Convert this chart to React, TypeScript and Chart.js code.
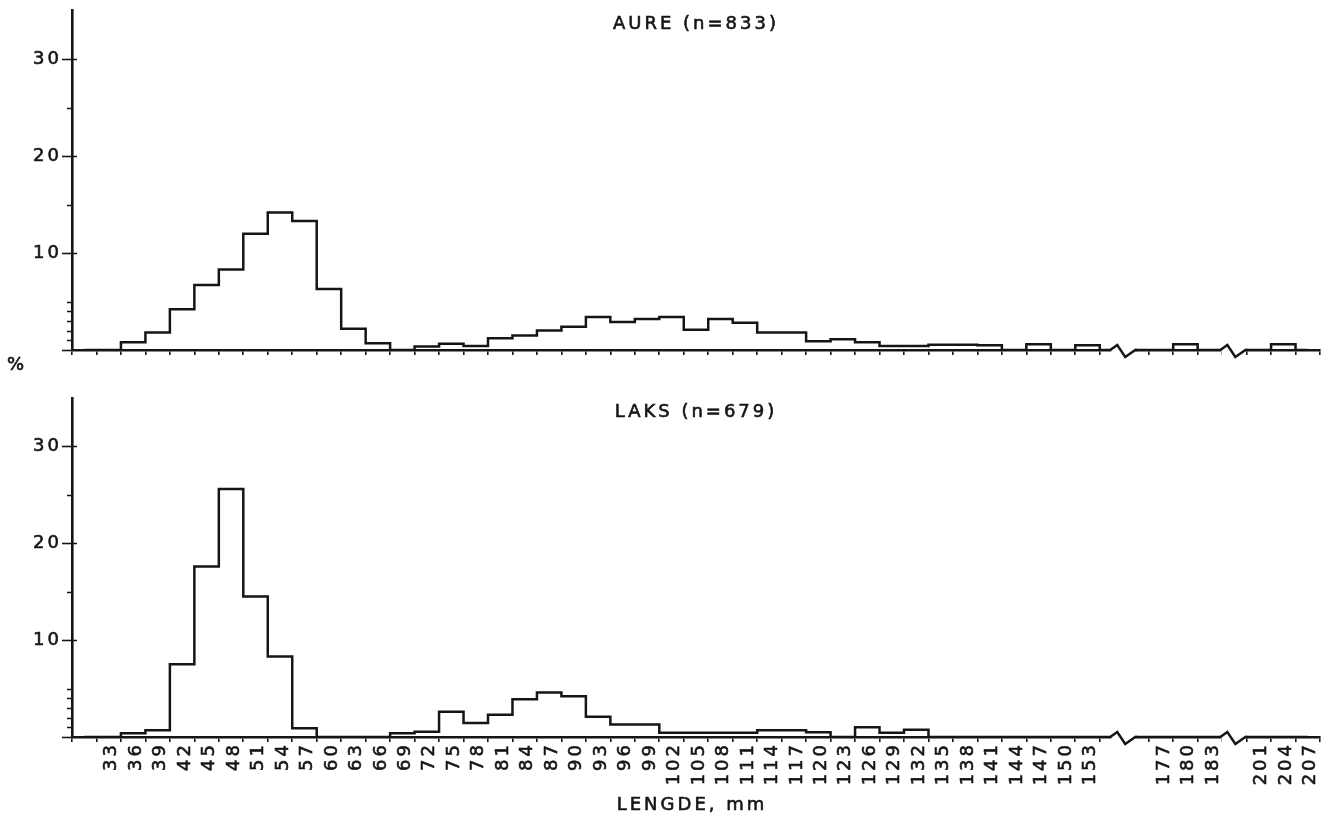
import { useEffect, useRef } from 'react';
import { Chart, registerables } from 'chart.js';

Chart.register(...registerables);

// ---- data ----
const CATEGORIES = [
  '', '33', '36', '39', '42', '45', '48', '51', '54', '57', '60', '63', '66', '69', '72', '75',
  '78', '81', '84', '87', '90', '93', '96', '99', '102', '105', '108', '111', '114', '117', '120',
  '123', '126', '129', '132', '135', '138', '141', '144', '147', '150', '153', '', '', '177', '180',
  '183', '', '201', '204', '207',
];

const AURE_PCT = [
  0, 0, 0.8, 1.8, 4.2, 6.7, 8.3, 12.0, 14.2, 13.3, 6.3, 2.2, 0.7, 0, 0.35, 0.65,
  0.4, 1.2, 1.5, 2.0, 2.4, 3.4, 2.9, 3.2, 3.4, 2.1, 3.2, 2.8, 1.8, 1.8, 0.9,
  1.1, 0.8, 0.4, 0.4, 0.55, 0.55, 0.5, 0, 0.6, 0, 0.5, 0, 0, 0, 0.6,
  0, 0, 0, 0.6, 0,
];

const LAKS_PCT = [
  0, 0, 0.4, 0.7, 7.5, 17.6, 25.6, 14.5, 8.3, 0.9, 0, 0, 0, 0.4, 0.55, 2.6,
  1.45, 2.3, 3.9, 4.6, 4.2, 2.1, 1.3, 1.3, 0.45, 0.45, 0.45, 0.45, 0.7, 0.7, 0.5,
  0, 1.0, 0.45, 0.75, 0, 0, 0, 0, 0, 0, 0, 0, 0, 0, 0,
  0, 0, 0, 0, 0,
];

const Y_TICKS = [0, 1, 2, 3, 4, 5, 10, 15, 20, 25, 30];
const Y_MAJOR = [0, 10, 20, 30];
const Y_LABELED = [10, 20, 30];
const Y_MAX = 35;

const AURE_TITLE = 'AURE (n=833)';
const LAKS_TITLE = 'LAKS (n=679)';
const X_TITLE = 'LENGDE, mm';
const Y_UNIT = '%';

// ---- style ----
const INK = '#151515';
const FONT_FAMILY = '"DejaVu Sans", "Liberation Sans", Arial, sans-serif';
const FONT_SIZE = 18;
const SPACING = '3px';
const TEXT_STROKE = 0.6;

function breakCenters(): number[] {
  const out: number[] = [];
  let i = 1;
  while (i < CATEGORIES.length) {
    if (CATEGORIES[i] === '') {
      let j = i;
      while (j + 1 < CATEGORIES.length && CATEGORIES[j + 1] === '') j++;
      out.push((i + j) / 2);
      i = j + 1;
    } else i++;
  }
  return out;
}

function drawText(ctx: CanvasRenderingContext2D, text: string, x: number, y: number) {
  ctx.fillText(text, x, y);
  ctx.lineWidth = TEXT_STROKE;
  ctx.strokeStyle = INK;
  ctx.strokeText(text, x, y);
}

function makePlugin(title: string, bottom: boolean) {
  const setSpacing = (chart: any) => {
    try { chart.ctx.letterSpacing = SPACING; } catch (e) { /* ignore */ }
  };
  return {
    id: 'plotter',
    beforeUpdate: setSpacing,
    beforeLayout: setSpacing,
    beforeDraw: setSpacing,
    afterDraw(chart: any) {
      const { ctx, chartArea } = chart;
      const xs = chart.scales.x;
      const ys = chart.scales.y;
      const base = ys.getPixelForValue(0);
      ctx.save();
      ctx.letterSpacing = SPACING;
      // minor y ticks and right-side extension of major ticks
      ctx.strokeStyle = INK;
      ctx.lineWidth = 1.6;
      ctx.beginPath();
      for (const v of Y_TICKS) {
        const y = Math.round(ys.getPixelForValue(v)) + 0.5;
        if (Y_MAJOR.includes(v)) {
          if (v !== 0) {
            ctx.moveTo(chartArea.left, y);
            ctx.lineTo(chartArea.left + 5, y);
          }
        } else {
          ctx.moveTo(chartArea.left - 5, y);
          ctx.lineTo(chartArea.left, y);
        }
      }
      ctx.stroke();

      // axis breaks
      for (const c0 of breakCenters()) {
        const c = xs.getPixelForValue(c0);
        ctx.fillStyle = '#ffffff';
        ctx.fillRect(c - 13, base - 3, 24, 10);
        ctx.strokeStyle = INK;
        ctx.lineWidth = 2.4;
        ctx.beginPath();
        ctx.moveTo(c - 14, base);
        ctx.lineTo(c - 7, base - 5);
        ctx.lineTo(c + 1, base + 7);
        ctx.lineTo(c + 11, base);
        ctx.lineTo(c + 13, base);
        ctx.stroke();
      }

      // panel title
      ctx.fillStyle = INK;
      ctx.font = `${FONT_SIZE}px ${FONT_FAMILY}`;
      ctx.textAlign = 'center';
      ctx.textBaseline = 'middle';
      drawText(ctx, title, (chartArea.left + chartArea.right) / 2, chartArea.top + 14);

      if (bottom) {
        // x axis title, centred under the plot
        drawText(ctx, X_TITLE, (chartArea.left + chartArea.right) / 2 - 4, chart.height - 15);
      } else {
        ctx.textAlign = 'left';
        drawText(ctx, Y_UNIT, 7, base + 15);
      }
      ctx.restore();
    },
  };
}

function makeConfig(values: number[], title: string, bottom: boolean): any {
  return {
    type: 'line',
    data: {
      labels: CATEGORIES,
      datasets: [
        {
          data: values,
          borderColor: INK,
          borderWidth: 2.5,
          pointRadius: 0,
          stepped: 'middle',
          fill: false,
        },
      ],
    },
    options: {
      animation: false,
      responsive: false,
      devicePixelRatio: 1,
      layout: { padding: { left: 0, right: 15, top: bottom ? 18 : 10, bottom: 0 } },
      plugins: { legend: { display: false }, tooltip: { enabled: false } },
      scales: {
        x: {
          type: 'category',
          offset: true,
          grid: {
            display: true,
            offset: true,
            drawOnChartArea: false,
            drawTicks: true,
            tickLength: 5,
            color: INK,
            tickColor: INK,
            lineWidth: 1.6,
            tickWidth: 1.6,
          },
          border: { display: true, color: INK, width: 2.6 },
          ticks: {
            display: bottom,
            autoSkip: false,
            maxRotation: 90,
            minRotation: 90,
            padding: 0,
            labelOffset: 3,
            color: INK,
            textStrokeColor: INK,
            textStrokeWidth: TEXT_STROKE,
            font: { family: FONT_FAMILY, size: FONT_SIZE },
          },
          afterFit: (scale: any) => {
            scale.height = bottom ? 83 : 30;
          },
        },
        y: {
          type: 'linear',
          min: 0,
          max: Y_MAX,
          afterBuildTicks: (scale: any) => {
            scale.ticks = Y_TICKS.map((v) => ({ value: v }));
          },
          afterFit: (scale: any) => {
            scale.width = 72;
          },
          grid: {
            display: true,
            drawOnChartArea: false,
            drawTicks: true,
            tickLength: 10,
            tickColor: (c: any) => (Y_MAJOR.includes(c.tick && c.tick.value) ? INK : 'rgba(0,0,0,0)'),
            tickWidth: 1.6,
          },
          border: { display: true, color: INK, width: 2.6 },
          ticks: {
            autoSkip: false,
            padding: 0,
            color: INK,
            textStrokeColor: INK,
            textStrokeWidth: TEXT_STROKE,
            font: { family: FONT_FAMILY, size: FONT_SIZE },
            callback: (v: any) => (Y_LABELED.includes(Number(v)) ? String(v) : ''),
          },
        },
      },
    },
    plugins: [makePlugin(title, bottom)],
  };
}

export default function App() {
  const topRef = useRef<HTMLCanvasElement | null>(null);
  const botRef = useRef<HTMLCanvasElement | null>(null);

  useEffect(() => {
    const charts: Chart[] = [];
    if (topRef.current) charts.push(new Chart(topRef.current, makeConfig(AURE_PCT, AURE_TITLE, false)));
    if (botRef.current) charts.push(new Chart(botRef.current, makeConfig(LAKS_PCT, LAKS_TITLE, true)));
    return () => charts.forEach((c) => c.destroy());
  }, []);

  return (
    <div
      style={{
        position: 'fixed',
        left: 0,
        top: 0,
        width: 1335,
        height: 820,
        background: '#ffffff',
        overflow: 'hidden',
      }}
    >
      <canvas ref={topRef} width={1335} height={380} style={{ position: 'absolute', left: 0, top: 0 }} />
      <canvas ref={botRef} width={1335} height={440} style={{ position: 'absolute', left: 0, top: 380 }} />
    </div>
  );
}
